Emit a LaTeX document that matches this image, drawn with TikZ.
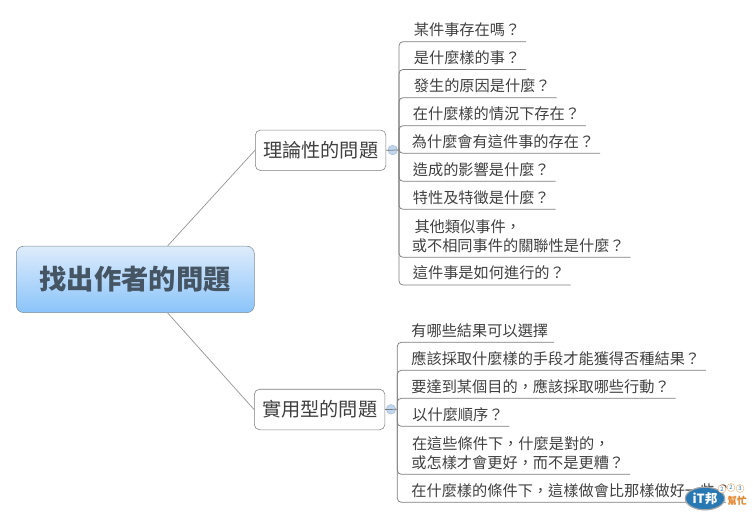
\documentclass[tikz,border=0pt]{standalone}
\usepackage{fontspec}
\setmainfont{Noto Sans CJK TC}
\usetikzlibrary{shapes.geometric}
\definecolor{rootline}{RGB}{125,140,155}
\definecolor{roottop}{RGB}{222,236,251}
\definecolor{rootbottom}{RGB}{138,196,250}
\definecolor{roottext}{RGB}{70,85,100}
\definecolor{inktext}{RGB}{64,64,64}
\definecolor{branchgray}{RGB}{125,125,125}
\definecolor{knobblue}{RGB}{190,214,240}
\definecolor{logoblue}{RGB}{40,120,180}
\definecolor{logoorange}{RGB}{225,130,40}

\begin{document}
\begin{tikzpicture}[
  x=0.75pt, y=-0.75pt,
  every node/.style={text=inktext},
  rootbox/.style={draw=rootline, rounded corners=5.5pt, top color=roottop,
    bottom color=rootbottom, minimum width=178.5pt, minimum height=49.8pt,
    inner sep=0pt, font=\fontsize{20.5}{24}\selectfont\bfseries, text=roottext},
  topicbox/.style={draw=branchgray, rounded corners=4pt, fill=white,
    minimum width=98pt, minimum height=30.4pt, inner sep=0pt,
    font=\fontsize{14.4}{17}\selectfont},
  question/.style={anchor=south west, align=left, inner xsep=4.2pt, inner ysep=2.6pt,
    text height=9.6pt, text depth=1.8pt,
    font=\fontsize{11.4}{14.2}\selectfont},
  knob/.style={circle, draw=knobblue!70!gray, fill=knobblue, minimum size=7.2pt, inner sep=0pt},
  branch/.style={draw=branchgray, line width=0.55pt},
  tree/.style={branch, rounded corners=3pt},
  link/.style={draw=branchgray!80, line width=0.55pt},
  logoblob/.style={ellipse, draw=gray!70, line width=0.9pt, fill=logoblue,
    minimum width=29.5pt, minimum height=17pt, inner sep=0pt, text=white,
    font=\fontsize{9.5}{10}\selectfont\bfseries\itshape},
  logotag/.style={inner sep=1pt, fill=white, text=logoorange,
    font=\fontsize{7.2}{8}\selectfont\bfseries},
  logodot/.style={circle, draw=logoorange!70, fill=white, line width=0.3pt,
    minimum size=6pt, inner sep=0pt, text=logoblue, font=\fontsize{4.5}{5}\selectfont},
]
\useasboundingbox (0,0) rectangle (753,518);

\node[rootbox]  at (135.3, 279.4) (root)   {找出作者的問題};
\node[topicbox] at (320.6, 150.3) (theory) {理論性的問題};
\node[topicbox] at (319.6, 409.5) (usage)  {實用型的問題};

\node[knob] at (392.7, 150.0) (knobA) {};
\node[knob] at (391.0, 409.3) (knobB) {};
\coordinate (spineA) at (399.0, 150.0);
\coordinate (spineB) at (397.3, 409.3);

\node[question] at (408.0,  41.7) (qa1) {某件事存在嗎？};
\node[question] at (408.0,  69.5) (qa2) {是什麼樣的事？};
\node[question] at (408.0,  97.7) (qa3) {發生的原因是什麼？};
\node[question] at (407.0, 125.7) (qa4) {在什麼樣的情況下存在？};
\node[question] at (406.0, 153.3) (qa5) {為什麼會有這件事的存在？};
\node[question] at (407.0, 181.3) (qa6) {造成的影響是什麼？};
\node[question] at (407.0, 209.3) (qa7) {特性及特徵是什麼？};
\node[question] at (406.0, 257.3) (qa8) {\hspace{2pt}其他類似事件，\\或不相同事件的關聯性是什麼？};
\node[question] at (407.0, 285.0) (qa9) {這件事是如何進行的？};

\node[question] at (405.5, 342.3) (qb1) {有哪些結果可以選擇};
\node[question] at (405.5, 370.3) (qb2) {應該採取什麼樣的手段才能獲得否種結果？};
\node[question] at (405.5, 398.3) (qb3) {要達到某個目的，應該採取哪些行動？};
\node[question] at (406.5, 426.3) (qb4) {以什麼順序？};
\node[question] at (405.5, 474.3) (qb5) {\hspace{0.5pt}在這些條件下，什麼是對的，\\或怎樣才會更好，而不是更糟？};
\node[question] at (405.5, 502.3) (qb6) {在什麼樣的條件下，這樣做會比那樣做好一些？};

\draw[link] (root.46)  -- (theory.west);
\draw[link] (root.-46) -- (usage.west);
\draw[branch] (theory.east) -- (spineA);
\draw[branch] (usage.east)  -- (spineB);
\foreach \q in {qa1,qa2,qa3,qa4,qa5,qa6,qa7,qa8,qa9}
  \draw[tree] (spineA) |- (\q.south east);
\foreach \q in {qb1,qb2,qb3,qb4,qb5,qb6}
  \draw[tree] (spineB) |- (\q.south east);

\node[logoblob] at (705.0, 498.5) (logo) {iT邦};
\node[logotag]  at (737.0, 501.0) (logotext) {幫忙};
\node[logodot]  at (722.0, 489.0) (dotA) {2};
\node[logodot]  at (731.0, 487.5) (dotB) {2};
\node[logodot]  at (740.0, 488.5) (dotC) {3};
\end{tikzpicture}
\end{document}
